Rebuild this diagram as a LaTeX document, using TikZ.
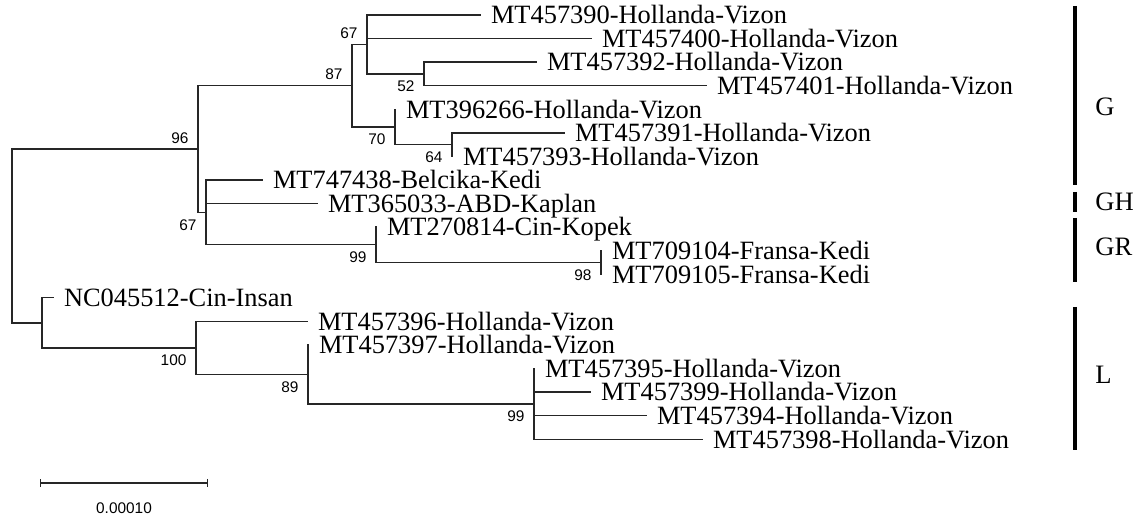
\documentclass[tikz,border=0pt]{standalone}
\usepackage{fontspec}
\setmainfont{Liberation Serif}
\newfontfamily\bsfont{Liberation Sans}
\usetikzlibrary{arrows.meta}

\begin{document}
\begin{tikzpicture}[x=0.5pt,y=-0.5pt,
  branch/.style={line width=0.65pt,draw=black!85,line cap=rect},
  leaf/.style={anchor=base west,inner sep=0pt,xshift=5.3pt,yshift=-4.4pt,
    font=\fontsize{13.2}{15}\selectfont},
  bs/.style={anchor=east,inner sep=0pt,font=\bsfont\fontsize{7.7}{9}\selectfont},
  bsup/.style={bs,xshift=-4.6pt,yshift=5.6pt},
  bsdown/.style={bs,xshift=-4.6pt,yshift=-6.3pt},
  grpbar/.style={line width=2pt},
  grp/.style={anchor=west,inner sep=0pt,font=\fontsize{13.3}{15}\selectfont}]
\useasboundingbox (0,0) rectangle (1144,522);

% internal nodes
\coordinate (R) at (12,236);
\coordinate (A) at (198,149.1);
\coordinate (B) at (352,85.7);
\coordinate (C) at (367,44.5);
\coordinate (D) at (424,73.9);
\coordinate (E) at (395,127);
\coordinate (F) at (452,144.6);
\coordinate (H) at (206,212.4);
\coordinate (I) at (376,244.8);
\coordinate (J) at (601,262.5);
\coordinate (K) at (42,322.9);
\coordinate (L) at (196,348);
\coordinate (M) at (308,374.5);
\coordinate (N) at (534,404);

% leaf tips
\coordinate (t0) at (480,15);
\coordinate (t1) at (591,38.6);
\coordinate (t2) at (536,62.1);
\coordinate (t3) at (706,85.7);
\coordinate (t4) at (395,109.3);
\coordinate (t5) at (564,132.9);
\coordinate (t6) at (452,156.4);
\coordinate (t7) at (262,180);
\coordinate (t8) at (317,203.6);
\coordinate (t9) at (376,227.1);
\coordinate (t10) at (601,250.7);
\coordinate (t11) at (601,274.3);
\coordinate (t12) at (53,297.8);
\coordinate (t13) at (307,321.4);
\coordinate (t14) at (308,345);
\coordinate (t15) at (534,368.6);
\coordinate (t16) at (590,392.1);
\coordinate (t17) at (646,415.7);
\coordinate (t18) at (702,439.3);

% branches
\draw[branch] (R |- A) -- (R |- K) (R |- A) -- (A) (R |- K) -- (K);
\draw[branch] (A |- B) -- (A |- H) (A |- B) -- (B) (A |- H) -- (H);
\draw[branch] (B |- C) -- (B |- E) (B |- C) -- (C) (B |- E) -- (E);
\draw[branch] (C |- t0) -- (C |- D) (C |- t0) -- (t0) (C |- t1) -- (t1) (C |- D) -- (D);
\draw[branch] (D |- t2) -- (D |- t3) (D |- t2) -- (t2) (D |- t3) -- (t3);
\draw[branch] (E |- t4) -- (E |- F) (E |- F) -- (F);
\draw[branch] (F |- t5) -- (F |- t6) (F |- t5) -- (t5);
\draw[branch] (H |- t7) -- (H |- I) (H |- t7) -- (t7) (H |- t8) -- (t8) (H |- I) -- (I);
\draw[branch] (I |- t9) -- (I |- J) (I |- J) -- (J);
\draw[branch] (J |- t10) -- (J |- t11);
\draw[branch] (K |- t12) -- (K |- L) (K |- t12) -- (t12) (K |- L) -- (L);
\draw[branch] (L |- t13) -- (L |- M) (L |- t13) -- (t13) (L |- M) -- (M);
\draw[branch] (M |- t14) -- (M |- N) (M |- N) -- (N);
\draw[branch] (N |- t15) -- (N |- t18) (N |- t16) -- (t16) (N |- t17) -- (t17) (N |- t18) -- (t18);

% taxa
\node[leaf] (n0) at (t0) {MT457390-Hollanda-Vizon};
\node[leaf] (n1) at (t1) {MT457400-Hollanda-Vizon};
\node[leaf] (n2) at (t2) {MT457392-Hollanda-Vizon};
\node[leaf] (n3) at (t3) {MT457401-Hollanda-Vizon};
\node[leaf] (n4) at (t4) {MT396266-Hollanda-Vizon};
\node[leaf] (n5) at (t5) {MT457391-Hollanda-Vizon};
\node[leaf] (n6) at (t6) {MT457393-Hollanda-Vizon};
\node[leaf] (n7) at (t7) {MT747438-Belcika-Kedi};
\node[leaf] (n8) at (t8) {MT365033-ABD-Kaplan};
\node[leaf] (n9) at (t9) {MT270814-Cin-Kopek};
\node[leaf] (n10) at (t10) {MT709104-Fransa-Kedi};
\node[leaf] (n11) at (t11) {MT709105-Fransa-Kedi};
\node[leaf] (n12) at (t12) {NC045512-Cin-Insan};
\node[leaf] (n13) at (t13) {MT457396-Hollanda-Vizon};
\node[leaf] (n14) at (t14) {MT457397-Hollanda-Vizon};
\node[leaf] (n15) at (t15) {MT457395-Hollanda-Vizon};
\node[leaf] (n16) at (t16) {MT457399-Hollanda-Vizon};
\node[leaf] (n17) at (t17) {MT457394-Hollanda-Vizon};
\node[leaf] (n18) at (t18) {MT457398-Hollanda-Vizon};

% bootstrap values
\node[bsup] (bA) at (A) {96};
\node[bsup] (bB) at (B) {87};
\node[bsup] (bC) at (C) {67};
\node[bsdown] (bD) at (D) {52};
\node[bsdown] (bE) at (E) {70};
\node[bsdown] (bF) at (F) {64};
\node[bsdown] (bH) at (H) {67};
\node[bsdown] (bI) at (I) {99};
\node[bsdown] (bJ) at (J) {98};
\node[bsdown] (bL) at (L) {100};
\node[bsdown] (bM) at (M) {89};
\node[bsdown] (bN) at (N) {99};

% groups
\draw[grpbar] (1075,6) -- (1075,185);
\draw[grpbar] (1075,192) -- (1075,212);
\draw[grpbar] (1075,218) -- (1075,282);
\draw[grpbar] (1075,307) -- (1075,450);
\node[grp] (gG) at (1095,107) {G};
\node[grp] (gGH) at (1095,202) {GH};
\node[grp] (gGR) at (1095,247) {GR};
\node[grp] (gL) at (1095,375) {L};

% scale bar
\coordinate (s0) at (40,483);
\coordinate (s1) at (208,483);
\draw[branch,line cap=butt,{Bar[width=4pt]}-{Bar[width=4pt]}] (s0) -- (s1);
\node[bs,anchor=center] (sl) at (124,508) {0.00010};
\end{tikzpicture}
\end{document}
